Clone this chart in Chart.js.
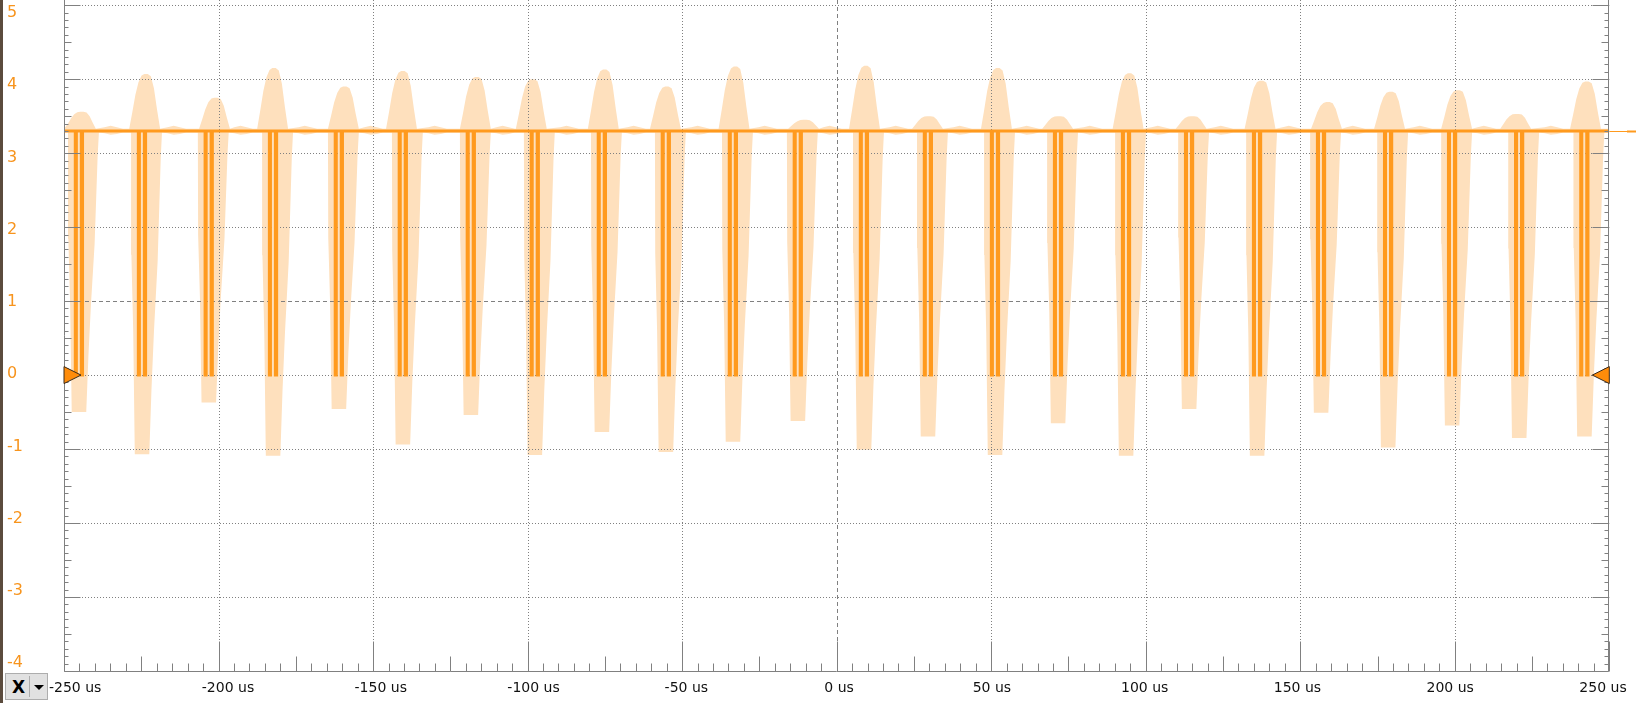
<!DOCTYPE html>
<html>
<head>
<meta charset="utf-8">
<script src="https://cdn.jsdelivr.net/npm/chart.js@4.4.1/dist/chart.umd.min.js"></script>
<style>
  html, body { margin: 0; padding: 0; background: #fff; overflow: hidden; }
  #wrap { position: relative; width: 1636px; height: 703px; }
  #edge { position: absolute; left: 0; top: 0; width: 3px; height: 703px; background: #5b4b3d; }
  #xbtn { position: absolute; left: 5px; top: 673px; width: 43px; height: 27px; box-sizing: border-box;
          background: #e1e1e1; border: 1px solid #adadad; }
  #xbtn span { position: absolute; left: 6px; top: 3px; font: bold 17px "DejaVu Sans", sans-serif; color: #000; }
  #xbtn i { position: absolute; left: 23px; top: 2px; width: 1px; height: 21px; background: #adadad; }
  #xbtn b { position: absolute; left: 28px; top: 11px; width: 0; height: 0;
            border-left: 5px solid transparent; border-right: 5px solid transparent; border-top: 5px solid #000; }
</style>
</head>
<body>
<div id="wrap">
  <canvas id="scope" width="1636" height="703"></canvas>
  <div id="edge"></div>
  <div id="xbtn"><span>X</span><i></i><b></b></div>
</div>
<script>
// axis ticks
const timeTicks = [-250, -200, -150, -100, -50, 0, 50, 100, 150, 200, 250];
const voltTicks = [5, 4, 3, 2, 1, 0, -1, -2, -3, -4];

// signal levels (V)
const highLevel = 3.3;
const bandTop = 3.33;
const bandBottom = 3.28;

// pulse groups (time in us, volts)
const pulseTimes = [-244.9, -224.5, -202.9, -182.1, -160.8, -140.1, -118.1, -97.4, -75.7, -55.0, -33.3, -12.3,
                    9.1, 29.8, 51.5, 71.9, 93.9, 114.3, 136.3, 157.0, 178.7, 199.4, 221.1, 242.2];
const overshootPeak = [3.56, 4.07, 3.75, 4.15, 3.90, 4.11, 4.03, 4.00, 4.13, 3.90, 4.17, 3.45,
                       4.18, 3.50, 4.15, 3.50, 4.08, 3.50, 3.98, 3.69, 3.83, 3.85, 3.53, 3.97];
const overshootShift = [0.6, 1.0, 2.0, 0.0, 1.6, -0.3, 1.6, -1.0, 0.6, 0.0, 0.5, 2.0,
                        0.3, 0.0, 0.6, 0.0, 0.8, 0.8, 1.1, 1.9, 0.6, 1.6, -1.0, 0.5];
const undershootMin = [-0.50, -1.07, -0.37, -1.09, -0.46, -0.94, -0.54, -1.08, -0.77, -1.04, -0.90, -0.62,
                       -1.01, -0.83, -1.08, -0.65, -1.09, -0.46, -1.09, -0.51, -0.98, -0.68, -0.85, -0.83];

// envelope outline around one pulse group (offsets in us, share of swing)
const humpOffsets = [-5.4, -4.4, -3.4, -2.4, -1.4, -0.5, 0.6, 1.6, 2.6, 3.6, 4.6];
const humpShape   = [0, 0.3, 0.62, 0.85, 0.97, 1, 1, 0.96, 0.74, 0.35, 0];
const dipOffsets  = [-3.8, -3.7, -3.1, -2.6, 2.1, 2.8, 3.6, 4.8, 5.8, 6.2];
const dipShape    = [1, 0.62, 0.38, 0, 0, 0.2, 0.38, 0.6, 0.92, 1];
const rippleOffsets = [8, 10, 12, 14];
const rippleTop     = [3.35, 3.37, 3.35, 3.33];
const rippleBottom  = [3.27, 3.25, 3.26, 3.28];

// main trace: two short low pulses per group (offsets in us)
const lowPulses = [[-1.45, -1.1], [0.5, 0.9]];

const upper = [{ x: -250, y: bandTop }];
const lower = [{ x: -250, y: bandBottom }];
const trace = [{ x: -250, y: highLevel }];
pulseTimes.forEach((c, i) => {
  const pc = c + overshootShift[i];
  humpOffsets.forEach((o, k) => upper.push({ x: pc + o, y: bandTop + humpShape[k] * (overshootPeak[i] - bandTop) }));
  rippleOffsets.forEach((o, k) => upper.push({ x: c + o, y: rippleTop[k] }));
  dipOffsets.forEach((o, k) => lower.push({ x: c + o, y: undershootMin[i] + dipShape[k] * (bandBottom - undershootMin[i]) }));
  rippleOffsets.forEach((o, k) => lower.push({ x: c + o, y: rippleBottom[k] }));
  lowPulses.forEach(([a, b]) => {
    trace.push({ x: c + a, y: highLevel }, { x: c + a, y: 0 }, { x: c + b, y: 0 }, { x: c + b, y: highLevel });
  });
});
upper.push({ x: 250, y: bandTop });
lower.push({ x: 250, y: bandBottom });
trace.push({ x: 250, y: highLevel });
upper.sort((a, b) => a.x - b.x);
lower.sort((a, b) => a.x - b.x);

const traceColor = '#ff9a1e';
const bandColor = '#fee0bd';
const axisColor = '#808080';

const scopePlugin = {
  id: 'scopeAxes',
  beforeDatasetDraw(chart, args) {
    if (args.index !== 0) return;
    const { ctx, chartArea: a, scales: { x, y } } = chart;
    ctx.save();
    ctx.strokeStyle = axisColor;
    ctx.lineWidth = 1;
    timeTicks.forEach(v => {
      if (v === -250 || v === 250) return;
      const px = Math.round(x.getPixelForValue(v)) + 0.5;
      ctx.setLineDash(v === 0 ? [4, 3] : [1, 2]);
      ctx.beginPath(); ctx.moveTo(px, a.top); ctx.lineTo(px, a.bottom); ctx.stroke();
    });
    voltTicks.forEach(v => {
      if (v === -4) return;
      const py = Math.round(y.getPixelForValue(v)) + 0.5;
      ctx.setLineDash(v === 1 ? [4, 3] : [1, 2]);
      ctx.beginPath(); ctx.moveTo(a.left, py); ctx.lineTo(a.right, py); ctx.stroke();
    });
    ctx.restore();
  },
  afterDraw(chart) {
    const { ctx, chartArea: a, scales: { x, y } } = chart;
    const L = Math.round(a.left) + 0.5, R = Math.round(a.right) - 0.5, B = Math.round(a.bottom) + 0.5;
    ctx.save();
    ctx.strokeStyle = axisColor;
    ctx.lineWidth = 1;
    ctx.setLineDash([]);
    ctx.beginPath();
    ctx.moveTo(L, a.top); ctx.lineTo(L, B); ctx.lineTo(R, B); ctx.lineTo(R, a.top);
    // volt ticks every 0.1
    for (let i = -40; i <= 50; i++) {
      const py = Math.round(y.getPixelForValue(i / 10)) + 0.5;
      const len = i % 10 === 0 ? 16 : (i % 5 === 0 ? 7 : 4);
      ctx.moveTo(L, py); ctx.lineTo(L + len, py);
      ctx.moveTo(R, py); ctx.lineTo(R - len, py);
    }
    // time ticks every 5 us
    for (let i = -50; i <= 50; i++) {
      const px = Math.round(x.getPixelForValue(i * 5)) + 0.5;
      const len = i % 10 === 0 ? 30 : (i % 5 === 0 ? 15 : 8);
      ctx.moveTo(px, B); ctx.lineTo(px, B - len);
    }
    ctx.stroke();

    // tick labels
    ctx.textBaseline = 'middle';
    ctx.font = '14px "DejaVu Sans", sans-serif';
    ctx.fillStyle = '#111';
    ctx.textAlign = 'center';
    timeTicks.forEach(v => {
      ctx.fillText(v + ' us', x.getPixelForValue(v) + 2.45 - v * 0.035, 688);
    });
    ctx.font = '16px "DejaVu Sans", sans-serif';
    ctx.fillStyle = '#f7941d';
    ctx.textAlign = 'left';
    voltTicks.forEach(v => {
      ctx.fillText(String(v), 7, y.getPixelForValue(v) + (v - 0.5) * 1.75);
    });

    // trace continues past the right edge
    const yh = Math.round(y.getPixelForValue(highLevel)) + 0.5;
    ctx.strokeStyle = traceColor;
    ctx.beginPath(); ctx.moveTo(a.right, yh); ctx.lineTo(1636, yh); ctx.stroke();
    ctx.lineWidth = 2;
    ctx.beginPath(); ctx.moveTo(1627, yh); ctx.lineTo(1636, yh); ctx.stroke();

    // ground markers
    const y0 = y.getPixelForValue(0);
    ctx.fillStyle = '#ff8c0a';
    ctx.strokeStyle = '#3a2a1a';
    ctx.lineWidth = 1;
    ctx.beginPath();
    ctx.moveTo(a.left, y0 - 8.5); ctx.lineTo(a.left + 17, y0); ctx.lineTo(a.left, y0 + 8.5); ctx.closePath();
    ctx.fill(); ctx.stroke();
    ctx.beginPath();
    ctx.moveTo(a.right, y0 - 8.5); ctx.lineTo(a.right - 17, y0); ctx.lineTo(a.right, y0 + 8.5); ctx.closePath();
    ctx.fill(); ctx.stroke();
    ctx.restore();
  }
};

new Chart(document.getElementById('scope'), {
  type: 'line',
  data: {
    datasets: [
      { label: 'CH1', data: trace, borderColor: traceColor, borderWidth: 3, pointRadius: 0, fill: false, tension: 0 },
      { label: 'max', data: upper, borderWidth: 0, borderColor: bandColor, backgroundColor: bandColor, pointRadius: 0, fill: '+1', tension: 0 },
      { label: 'min', data: lower, borderWidth: 0, borderColor: bandColor, pointRadius: 0, fill: false, tension: 0 }
    ]
  },
  plugins: [scopePlugin],
  options: {
    responsive: false,
    animation: false,
    devicePixelRatio: 1,
    layout: { padding: { left: 64, right: 26.7, top: 0, bottom: 32 } },
    plugins: { legend: { display: false }, tooltip: { enabled: false } },
    scales: {
      x: { type: 'linear', min: -250, max: 250, display: false },
      y: { type: 'linear', min: -4, max: 5.07, display: false }
    }
  }
});
</script>
</body>
</html>
